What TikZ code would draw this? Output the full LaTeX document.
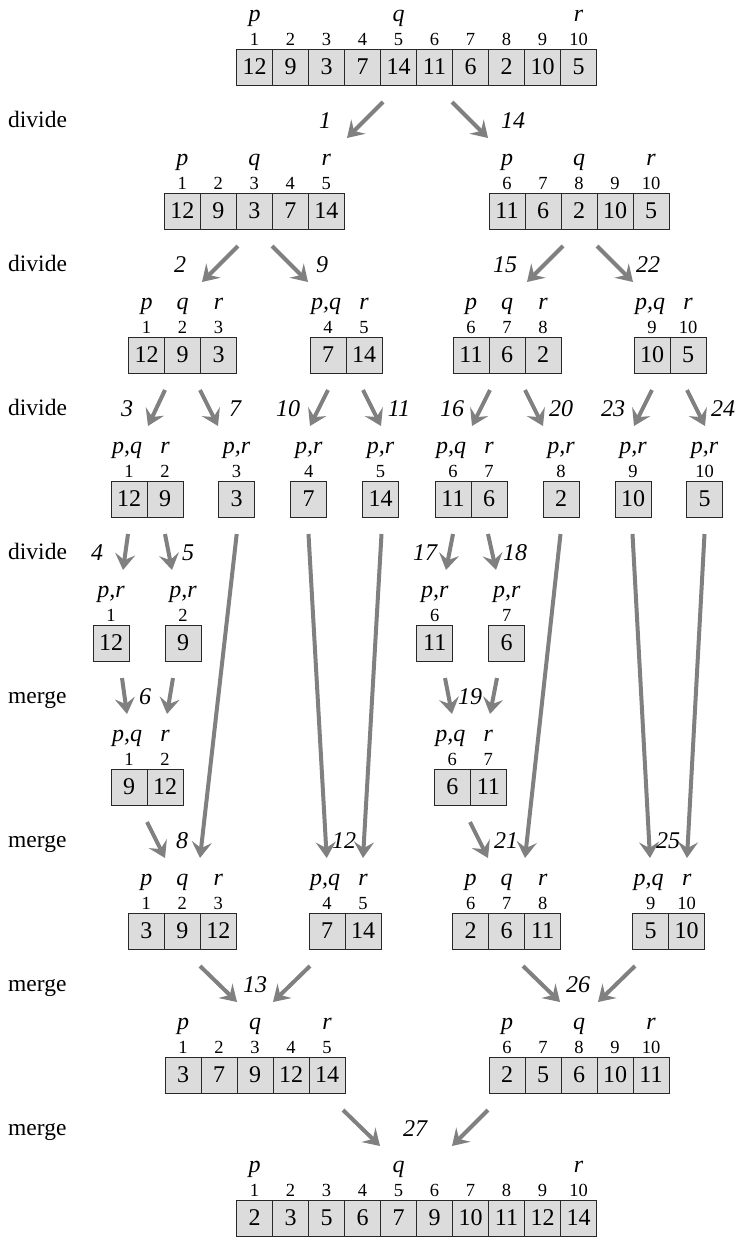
\documentclass[tikz,border=0pt]{standalone}
\usepackage{fontspec}
\setmainfont{Liberation Serif}
\usetikzlibrary{arrows.meta}
\definecolor{cellfill}{RGB}{220,220,220}
\definecolor{arrgray}{RGB}{128,128,128}
\definecolor{celldraw}{RGB}{40,40,40}
\tikzset{
  cellbox/.style={draw=celldraw, fill=cellfill, line width=0.9pt, minimum width=36pt, minimum height=36pt, inner sep=0pt, font=\fontsize{24}{28}\selectfont},
  idx/.style={anchor=base, inner sep=0pt, font=\fontsize{18.5}{21}\selectfont},
  lab/.style={anchor=base, inner sep=0pt, font=\fontsize{24}{28}\selectfont\itshape},
  num/.style={anchor=base, inner sep=0pt, font=\fontsize{24}{28}\selectfont\itshape},
  side/.style={anchor=base west, inner sep=0pt, font=\fontsize{23.5}{28}\selectfont},
  arr/.style={draw=arrgray, line width=4pt, -{Stealth[length=16pt, width=20pt, inset=6pt]}}
}
% #1 name, #2 first cell centre x, #3 top y, #4 list value/index
\newcommand{\mkarray}[4]{%
  \foreach \v/\i [count=\n] in {#4} {%
    \node[cellbox] (#1c\n) at ({#2+36*(\n-1)}, {#3+18}) {\v};
    \node[idx] (#1i\n) at ({#2+36*(\n-1)}, {#3-4}) {\i};
  }}
% #1 name, #2 x, #3 top y of cells, #4 text
\newcommand{\mklab}[4]{\node[lab] (#1) at (#2, {#3-28}) {#4};}
% #1 name, #2 x1, #3 y1, #4 x2, #5 y2
\newcommand{\arw}[5]{\coordinate (#1s) at (#2,#3); \coordinate (#1e) at (#4,#5); \draw[arr] (#1s) -- (#1e);}
\begin{document}
\begin{tikzpicture}[x=1pt, y=-1pt]
\useasboundingbox (0,0) rectangle (737,1237);

% side labels
\foreach \w/\k in {divide/0, divide/1, divide/2, divide/3, merge/4, merge/5, merge/6, merge/7} {
  \node[side] (side\k) at (8, {127.5+144*\k}) {\w};
}

% Row 0
\mkarray{ra}{254.5}{49}{12/1, 9/2, 3/3, 7/4, 14/5, 11/6, 6/7, 2/8, 10/9, 5/10}
\mklab{ra-p}{254.5}{49}{p} \mklab{ra-q}{398.5}{49}{q} \mklab{ra-r}{578.5}{49}{r}

% Row 1
\mkarray{rba}{182.3}{193}{12/1, 9/2, 3/3, 7/4, 14/5}
\mklab{rba-p}{182.3}{193}{p} \mklab{rba-q}{254.3}{193}{q} \mklab{rba-r}{326.3}{193}{r}
\mkarray{rbb}{507}{193}{11/6, 6/7, 2/8, 10/9, 5/10}
\mklab{rbb-p}{507}{193}{p} \mklab{rbb-q}{579}{193}{q} \mklab{rbb-r}{651}{193}{r}

% Row 2
\mkarray{rca}{146.5}{337}{12/1, 9/2, 3/3}
\mklab{rca-p}{146.5}{337}{p} \mklab{rca-q}{182.5}{337}{q} \mklab{rca-r}{218.5}{337}{r}
\mkarray{rcb}{328}{337}{7/4, 14/5}
\mklab{rcb-pq}{326}{337}{p,q} \mklab{rcb-r}{364}{337}{r}
\mkarray{rcc}{471}{337}{11/6, 6/7, 2/8}
\mklab{rcc-p}{471}{337}{p} \mklab{rcc-q}{507}{337}{q} \mklab{rcc-r}{543}{337}{r}
\mkarray{rcd}{652}{337}{10/9, 5/10}
\mklab{rcd-pq}{650}{337}{p,q} \mklab{rcd-r}{688}{337}{r}

% Row 3
\mkarray{rda}{129}{481}{12/1, 9/2}
\mklab{rda-pq}{127}{481}{p,q} \mklab{rda-r}{165}{481}{r}
\mkarray{rdb}{236.5}{481}{3/3}
\mklab{rdb-pr}{236.5}{481}{p,r}
\mkarray{rdc}{308.7}{481}{7/4}
\mklab{rdc-pr}{308.7}{481}{p,r}
\mkarray{rdd}{380.5}{481}{14/5}
\mklab{rdd-pr}{380.5}{481}{p,r}
\mkarray{rde}{453}{481}{11/6, 6/7}
\mklab{rde-pq}{451}{481}{p,q} \mklab{rde-r}{489}{481}{r}
\mkarray{rdf}{561}{481}{2/8}
\mklab{rdf-pr}{561}{481}{p,r}
\mkarray{rdg}{633}{481}{10/9}
\mklab{rdg-pr}{633}{481}{p,r}
\mkarray{rdh}{704.5}{481}{5/10}
\mklab{rdh-pr}{704.5}{481}{p,r}

% Row 4
\mkarray{rea}{111}{625}{12/1}
\mklab{rea-pr}{111}{625}{p,r}
\mkarray{reb}{183}{625}{9/2}
\mklab{reb-pr}{183}{625}{p,r}
\mkarray{rec}{434.7}{625}{11/6}
\mklab{rec-pr}{434.7}{625}{p,r}
\mkarray{red}{506.7}{625}{6/7}
\mklab{red-pr}{506.7}{625}{p,r}

% Row 5
\mkarray{rfa}{129}{769}{9/1, 12/2}
\mklab{rfa-pq}{127}{769}{p,q} \mklab{rfa-r}{165}{769}{r}
\mkarray{rfb}{452.3}{769}{6/6, 11/7}
\mklab{rfb-pq}{450.3}{769}{p,q} \mklab{rfb-r}{488.3}{769}{r}

% Row 6
\mkarray{rga}{146.3}{913}{3/1, 9/2, 12/3}
\mklab{rga-p}{146.3}{913}{p} \mklab{rga-q}{182.3}{913}{q} \mklab{rga-r}{218.3}{913}{r}
\mkarray{rgb}{327}{913}{7/4, 14/5}
\mklab{rgb-pq}{325}{913}{p,q} \mklab{rgb-r}{363}{913}{r}
\mkarray{rgc}{470.7}{913}{2/6, 6/7, 11/8}
\mklab{rgc-p}{470.7}{913}{p} \mklab{rgc-q}{506.7}{913}{q} \mklab{rgc-r}{542.7}{913}{r}
\mkarray{rgd}{650.7}{913}{5/9, 10/10}
\mklab{rgd-pq}{648.7}{913}{p,q} \mklab{rgd-r}{686.7}{913}{r}

% Row 7
\mkarray{rha}{183}{1057}{3/1, 7/2, 9/3, 12/4, 14/5}
\mklab{rha-p}{183}{1057}{p} \mklab{rha-q}{255}{1057}{q} \mklab{rha-r}{327}{1057}{r}
\mkarray{rhb}{507}{1057}{2/6, 5/7, 6/8, 10/9, 11/10}
\mklab{rhb-p}{507}{1057}{p} \mklab{rhb-q}{579}{1057}{q} \mklab{rhb-r}{651}{1057}{r}

% Row 8
\mkarray{ri}{254.5}{1200}{2/1, 3/2, 5/3, 6/4, 7/5, 9/6, 10/7, 11/8, 12/9, 14/10}
\mklab{ri-p}{254.5}{1200}{p} \mklab{ri-q}{398.5}{1200}{q} \mklab{ri-r}{578.5}{1200}{r}

% Arrows and step numbers
% k=0
\arw{a1}{383}{102}{347}{138} \node[num] (n1) at (325,128) {1};
\arw{a14}{452}{102}{488}{138} \node[num] (n14) at (513,128) {14};
% k=1
\arw{a2}{238}{246}{202}{282} \node[num] (n2) at (180,272) {2};
\arw{a9}{272}{246}{308}{282} \node[num] (n9) at (322,272) {9};
\arw{a15}{563}{246}{527}{282} \node[num] (n15) at (505,272) {15};
\arw{a22}{597}{246}{633}{282} \node[num] (n22) at (648,272) {22};
% k=2
\arw{a3}{165}{390}{148}{426} \node[num] (n3) at (127,416) {3};
\arw{a7}{200}{390}{218}{426} \node[num] (n7) at (235,416) {7};
\arw{a10}{328}{390}{310}{426} \node[num] (n10) at (288,416) {10};
\arw{a11}{363}{390}{381}{426} \node[num] (n11) at (399,416) {11};
\arw{a16}{490}{390}{472}{426} \node[num] (n16) at (452,416) {16};
\arw{a20}{525}{390}{543}{426} \node[num] (n20) at (561,416) {20};
\arw{a23}{652}{390}{634}{426} \node[num] (n23) at (613,416) {23};
\arw{a24}{687}{390}{705}{426} \node[num] (n24) at (723,416) {24};
% k=3
\arw{a4}{128}{534}{123}{570} \node[num] (n4) at (97,560) {4};
\arw{a5}{165}{534}{172}{570} \node[num] (n5) at (188,560) {5};
\arw{a17}{453}{534}{446}{570} \node[num] (n17) at (425,560) {17};
\arw{a18}{488}{534}{496}{570} \node[num] (n18) at (515,560) {18};
% k=4
\arw{a6a}{122}{678}{127}{714} \arw{a6b}{173}{678}{167}{714} \node[num] (n6) at (145,704) {6};
\arw{a19a}{445}{678}{452}{714} \arw{a19b}{497}{678}{490}{714} \node[num] (n19) at (470,704) {19};
% k=5
\arw{a8}{147}{822}{165}{858}
\arw{l1}{236.7}{534}{200}{858}
\node[num] (n8) at (182,848) {8};
\arw{l2}{308.5}{534}{326.7}{858}
\arw{l3}{381.5}{534}{363}{858}
\node[num] (n12) at (344,848) {12};
\arw{a21}{470}{822}{488}{858}
\arw{l4}{560.5}{534}{525}{858}
\node[num] (n21) at (506,848) {21};
\arw{l5}{632.5}{534}{650}{858}
\arw{l6}{704.5}{534}{687}{858}
\node[num] (n25) at (668,848) {25};
% k=6
\arw{a13a}{200}{966}{237}{1002} \arw{a13b}{310}{966}{273}{1002} \node[num] (n13) at (255,992) {13};
\arw{a26a}{523}{966}{560}{1002} \arw{a26b}{635}{966}{598}{1002} \node[num] (n26) at (578,992) {26};
% k=7
\arw{a27a}{343}{1110}{380}{1146} \arw{a27b}{488}{1110}{452}{1146} \node[num] (n27) at (415,1136) {27};
\end{tikzpicture}
\end{document}
